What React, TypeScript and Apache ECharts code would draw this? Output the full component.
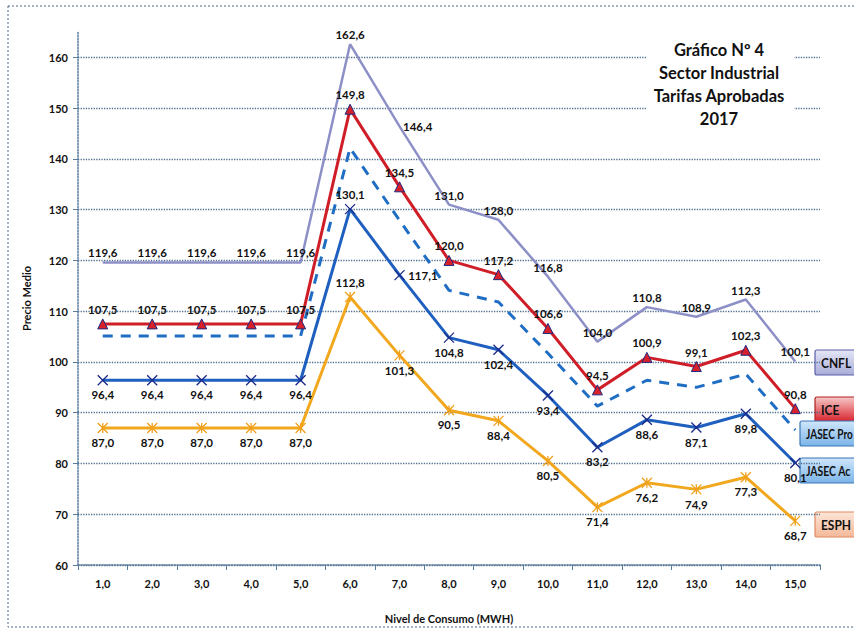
import React, { useEffect, useRef } from "react";
import * as echarts from "echarts";

const categories = ["1,0","2,0","3,0","4,0","5,0","6,0","7,0","8,0","9,0","10,0","11,0","12,0","13,0","14,0","15,0"];
const cnfl = [119.6,119.6,119.6,119.6,119.6,162.6,146.4,131.0,128.0,116.8,104.0,110.8,108.9,112.3,100.1];
const ice = [107.5,107.5,107.5,107.5,107.5,149.8,134.5,120.0,117.2,106.6,94.5,100.9,99.1,102.3,90.8];
const jasecPro = [105.1,105.1,105.1,105.1,105.1,142.1,127.9,114.1,111.8,101.7,91.3,96.4,95.0,97.6,86.6];
const jasecAc = [96.4,96.4,96.4,96.4,96.4,130.1,117.1,104.8,102.4,93.4,83.2,88.6,87.1,89.8,80.1];
const esph = [87.0,87.0,87.0,87.0,87.0,112.8,101.3,90.5,88.4,80.5,71.4,76.2,74.9,77.3,68.7];

const cnflPos = ["top","top","top","top","top","top","right","top","top","top","top","top","top","top","top"];
const icePos = ["top","top","top","top","top","top","top","top","top","top","top","top","top","top","top"];
const jasecAcPos = ["bottom","bottom","bottom","bottom","bottom","top","right","bottom","bottom","bottom","bottom","bottom","bottom","bottom","bottom"];
const esphPos = ["bottom","bottom","bottom","bottom","bottom","top","bottom","bottom","bottom","bottom","bottom","bottom","bottom","bottom","bottom"];

const fmt = (v: number) => v.toFixed(1).replace(".", ",");
const FONT = "Lato";

function withPos(vals: number[], pos: string[]) {
  return vals.map((v, i) => ({ value: v, label: { position: pos[i] } }));
}

const labelBase = {
  show: true,
  color: "#111",
  fontFamily: FONT,
  fontWeight: "bold" as const,
  fontSize: 11.5,
  distance: 3,
  formatter: (p: any) => fmt(p.value),
};

const crossPath = "path://M0,0L10,10M10,0L0,10";
const starPath = "path://M0,0L10,10M10,0L0,10M5,0L5,10";

export default function App() {
  const ref = useRef<HTMLDivElement>(null);
  useEffect(() => {
    document.body.style.margin = "0";
    const chart = echarts.init(ref.current!, null, { renderer: "svg" });
    const legendBox = (y: number, x: number, w: number, text: string, fill: any, stroke: string, sx: number) => ({
      type: "group",
      children: [
        { type: "rect", shape: { x, y, width: w, height: 25, r: 2 }, style: { fill, stroke, lineWidth: 1.2 } },
        { type: "text", x: x + 6, y: y + 13, scaleX: sx, style: { text, font: `bold 13px ${FONT}`, fill: "#111", verticalAlign: "middle" } },
      ],
    });
    const grad = (a: string, b: string) => new echarts.graphic.LinearGradient(0, 0, 0, 1, [
      { offset: 0, color: a }, { offset: 1, color: b },
    ]);
    chart.setOption({
      animation: false,
      backgroundColor: "#ffffff",
      grid: { left: 78, right: 34, top: 32, bottom: 68 },
      xAxis: {
        type: "category",
        data: categories,
        boundaryGap: true,
        name: "Nivel de Consumo (MWH)",
        nameLocation: "middle",
        nameGap: 48,
        nameTextStyle: { fontFamily: FONT, fontWeight: "bold", fontSize: 11, color: "#111" },
        axisLine: { lineStyle: { color: "#5a7a9a", type: "dotted", width: 1.5 } },
        axisTick: { show: true, lineStyle: { color: "#5a7a9a" } },
        axisLabel: { fontFamily: FONT, fontWeight: "bold", fontSize: 11, color: "#111", margin: 13 },
      },
      yAxis: {
        type: "value",
        min: 60,
        max: 165,
        interval: 10,
        name: "Precio Medio",
        nameLocation: "middle",
        nameGap: 46,
        nameRotate: 90,
        nameTextStyle: { fontFamily: FONT, fontWeight: "bold", fontSize: 11, color: "#111" },
        axisLine: { show: true, lineStyle: { color: "#5a7a9a", type: "dotted", width: 1.5 } },
        axisTick: { show: true, length: 5, lineStyle: { color: "#5a7a9a" } },
        axisLabel: {
          fontFamily: FONT, fontWeight: "bold", fontSize: 11, color: "#111", margin: 10,
          showMaxLabel: false,
          formatter: (v: number) => (v % 10 === 0 ? String(v) : ""),
        },
        splitLine: { show: true, showMaxLine: false, lineStyle: { color: "#4f6f8f", type: "dotted", width: 1.3 } },
      },
      graphic: [
        { type: "rect", z: 100, silent: true, shape: { x: 8, y: 6, width: 860, height: 621 }, style: { fill: "none", stroke: "#4a6a8a", lineWidth: 1, lineDash: [2, 2] } },
        { type: "rect", z: 5, shape: { x: 646, y: 38, width: 148, height: 94 }, style: { fill: "#ffffff" } },
        {
          type: "text", z: 6, x: 719, y: 38,
          style: {
            text: "Gráfico Nº 4\nSector Industrial\nTarifas Aprobadas\n2017",
            font: `bold 16.5px ${FONT}`, fill: "#111", align: "center", lineHeight: 23,
          },
        },
        legendBox(350, 815, 60, "CNFL", grad("#e4e6f6", "#a9acd8"), "#5a5fa8", 0.92),
        legendBox(397, 815, 60, "ICE", grad("#f6c8c8", "#d8202a"), "#b02020", 0.92),
        legendBox(421, 800, 70, "JASEC Pro", grad("#cfe6fb", "#7bb4e8"), "#3a78b8", 0.77),
        legendBox(458, 800, 70, "JASEC Ac", grad("#cfe6fb", "#7bb4e8"), "#3a78b8", 0.8),
        legendBox(512, 815, 60, "ESPH", grad("#fde6d8", "#f4b898"), "#e08a60", 0.92),
      ],
      series: [
        {
          name: "CNFL", type: "line", data: withPos(cnfl, cnflPos),
          symbol: "circle", symbolSize: 1, itemStyle: { color: "rgba(0,0,0,0)" },
          lineStyle: { color: "#8d90c6", width: 2.5 },
          label: labelBase, z: 3,
        },
        {
          name: "JASEC Pro", type: "line", data: jasecPro,
          symbol: "none", lineStyle: { color: "#1f6ec4", width: 3, type: [10, 8] },
          label: { show: false }, z: 3,
        },
        {
          name: "ICE", type: "line", data: withPos(ice, icePos),
          symbol: "triangle", symbolSize: 10,
          itemStyle: { color: "#d8202a", borderColor: "#1e2a80", borderWidth: 1 },
          lineStyle: { color: "#d01e28", width: 3 },
          label: labelBase, z: 4,
        },
        {
          name: "JASEC Ac", type: "line", data: withPos(jasecAc, jasecAcPos),
          symbol: crossPath, symbolSize: 10,
          itemStyle: { color: "#1a2a88", borderColor: "#1a2a88", borderWidth: 1.3 },
          lineStyle: { color: "#1f5fbf", width: 3 },
          label: labelBase, z: 4,
        },
        {
          name: "ESPH", type: "line", data: withPos(esph, esphPos),
          symbol: starPath, symbolSize: 10,
          itemStyle: { color: "#f0a01c", borderColor: "#f0a01c", borderWidth: 1.3 },
          lineStyle: { color: "#f2a81e", width: 3 },
          label: labelBase, z: 4,
        },
      ],
    });
    return () => chart.dispose();
  }, []);
  return <div ref={ref} style={{ width: 854, height: 633 }} />;
}
